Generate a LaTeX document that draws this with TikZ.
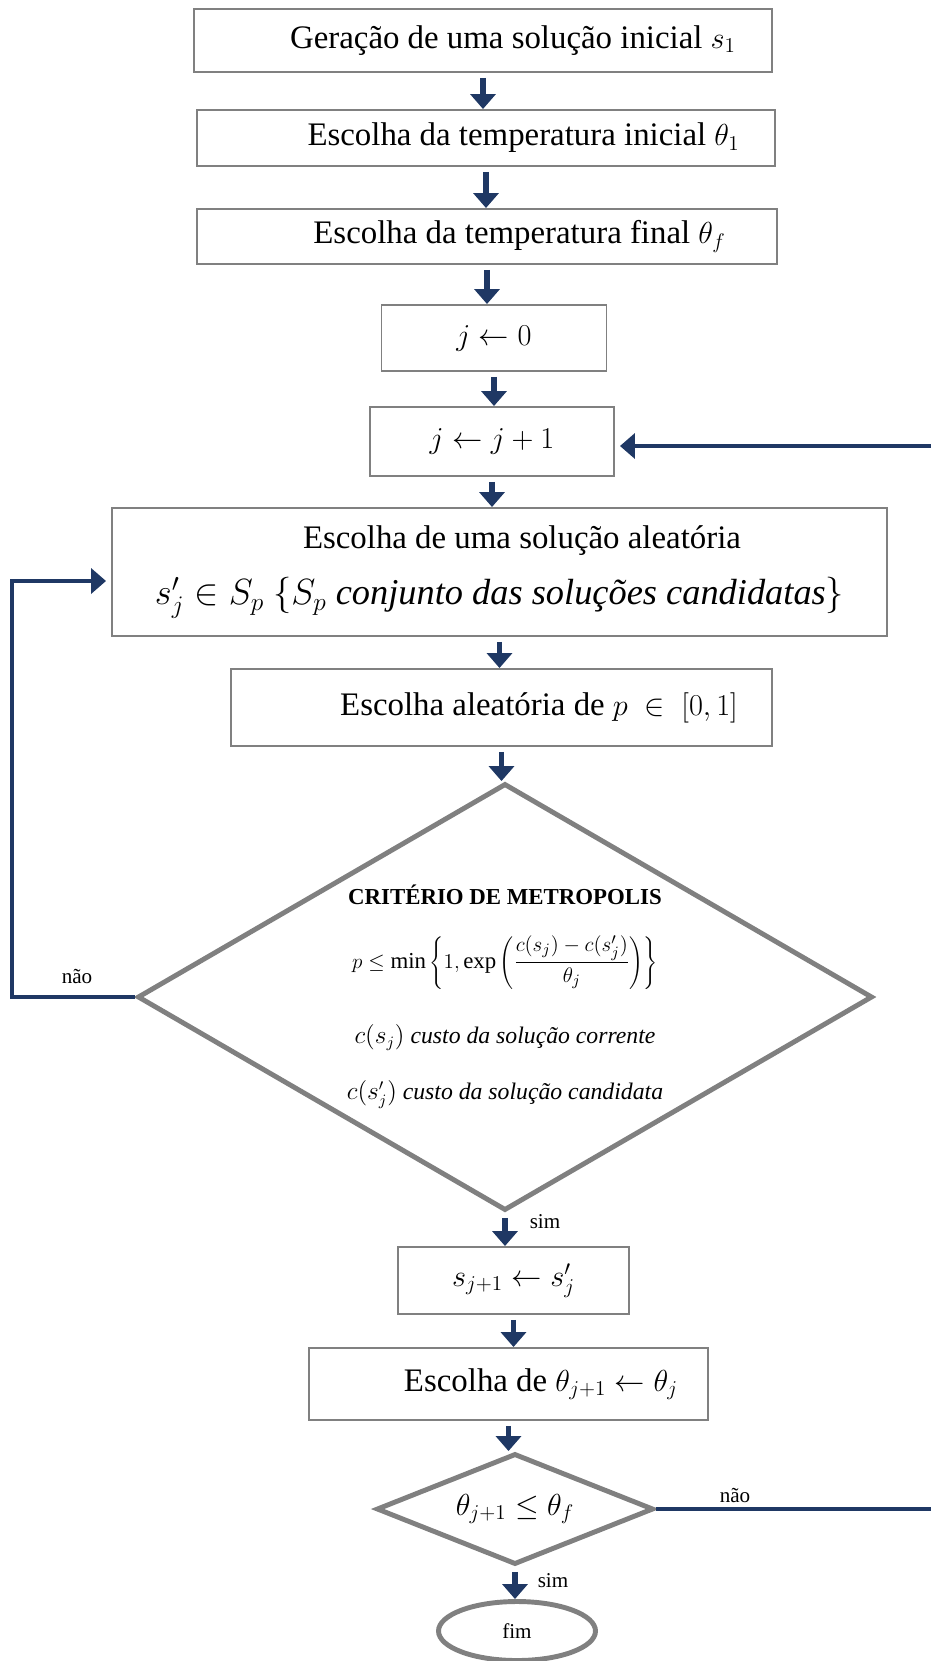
\documentclass[tikz,border=0pt]{standalone}
\usepackage{fontspec}
\setmainfont{Liberation Serif}
\usetikzlibrary{arrows.meta, positioning, shapes.geometric, calc}
\definecolor{flowBd}{HTML}{1F3864}
\definecolor{boxBd}{HTML}{808080}
\newcommand{\critfont}{\fontsize{13}{15.5}\selectfont}
\newcommand{\costfont}{\fontsize{13.5}{16}\selectfont\itshape}

\begin{document}
\begin{tikzpicture}[
  font=\fontsize{18.7}{22}\selectfont,
  box/.style={rectangle, draw=boxBd, line width=1.1pt, align=center,
              inner sep=0pt},
  test/.style={diamond, draw=boxBd, line width=2.8pt, align=center,
               inner sep=0pt},
  flow/.style={-{Triangle[width=0.5cm, length=0.3cm]}, line width=3.4pt,
               draw=flowBd, shorten <=0.1cm},
  back/.style={-{Triangle[width=0.5cm, length=0.3cm]}, line width=2.6pt,
               draw=flowBd, shorten >=0.1cm},
  lbl/.style={font=\fontsize{12}{14}\selectfont},
]
\useasboundingbox (0,0) rectangle (18.62,-33.22);

% ---------------------------- start ---------------------------------------
\node[box, minimum width=11.56cm, minimum height=1.26cm] (gen) at (9.66,-0.81)
  {\hspace*{1.2cm}Geração de uma solução inicial $s_1$};

\node[box, minimum width=11.56cm, minimum height=1.12cm] (tini) at (9.72,-2.76)
  {\hspace*{1.5cm}Escolha da temperatura inicial $\theta_1$};

\node[box, minimum width=11.6cm, minimum height=1.1cm] (tfin) at (9.74,-4.73)
  {\hspace*{1.3cm}Escolha da temperatura final $\theta_f$};

% ---------------------------- counter -------------------------------------
\node[box, minimum width=4.5cm, minimum height=1.32cm] (jzero) at (9.88,-6.76)
  {$j \leftarrow 0$};

\node[box, minimum width=4.88cm, minimum height=1.38cm] (jinc) at (9.84,-8.83)
  {$j \leftarrow j+1$};

% ---------------------------- candidate -----------------------------------
\node[box, minimum width=15.5cm, minimum height=2.56cm] (pick) at (9.99,-11.44)
  {\hspace*{0.9cm}Escolha de uma solução aleatória\\[10pt]
   {\fontsize{20.7}{24}\selectfont
    $s'_j \in S_p\ \bigl\{S_p\ \textit{conjunto das soluções candidatas}\bigr\}$}};

\node[box, minimum width=10.82cm, minimum height=1.54cm] (prob) at (10.03,-14.15)
  {\hspace*{1.5cm}Escolha aleatória de $p\ \in\ [0,1]$};

% ---------------------------- metropolis test -----------------------------
\node[test, aspect=1.7, minimum width=14.7cm, minimum height=8.54cm] (crit)
  at (10.10,-19.94)
  {{\critfont\bfseries CRITÉRIO DE METROPOLIS}\\[14pt]
   {\critfont $p \le \min\left\{1, \exp\left(
      {\displaystyle\frac{c(s_j)-c(s'_j)}{\theta_j}}\right)\right\}$}\\[19pt]
   {\costfont $c(s_j)$ custo da solução corrente}\\[10pt]
   {\costfont $c(s'_j)$ custo da solução candidata}};

% ---------------------------- accept and cool -----------------------------
\node[box, minimum width=4.62cm, minimum height=1.34cm] (accept) at (10.27,-25.61)
  {$s_{j+1} \leftarrow s_j^{\prime}$};

\node[box, minimum width=7.98cm, minimum height=1.44cm] (cool) at (10.17,-27.68)
  {\hspace*{1.3cm}Escolha de $\theta_{j+1} \leftarrow \theta_j$};

\node[test, aspect=2.4, minimum width=5.54cm, minimum height=2.22cm] (stop)
  at (10.30,-30.18) {$\theta_{j+1} \le \theta_f$};

\node[ellipse, draw=boxBd, line width=2.8pt, minimum width=3.14cm,
      minimum height=1.18cm, inner sep=0pt, font=\fontsize{12}{14}\selectfont]
  (done) at (10.34,-32.62) {fim};

% ---------------------------- flow ----------------------------------------
\draw[flow] (gen.south)    -- (gen.south |- tini.north);
\draw[flow] (tini.south)   -- (tini.south |- tfin.north);
\draw[flow] (tfin.south)   -- (tfin.south |- jzero.north);
\draw[flow] (jzero.south)  -- (jzero.south |- jinc.north);
\draw[flow] (jinc.south)   -- (jinc.south |- pick.north);
\draw[flow] (pick.south)   -- (pick.south |- prob.north);
\draw[flow] (prob.south)   -- (prob.south |- crit.north);
\draw[flow] (crit.south)   -- (crit.south |- accept.north);
\draw[flow] (accept.south) -- (accept.south |- cool.north);
\draw[flow] (cool.south)   -- (cool.south |- stop.north);
\draw[flow] (stop.south)   -- (stop.south |- done.north);

% rejected candidate goes back to the choice; the right loop leaves the page
\coordinate (lside) at (0.24,0);
\coordinate (rside) at (18.9,0);
\draw[back] (crit.west) -- (crit.west -| lside) |- ([yshift=-0.18cm]pick.west);
\draw[back] (stop.east) -- (stop.east -| rside) |- ([yshift=-0.09cm]jinc.east);

\node[lbl] (noA)  at (1.54,-19.52)  {não};
\node[lbl] (yesA) at (10.90,-24.44) {sim};
\node[lbl] (noB)  at (14.70,-29.90) {não};
\node[lbl] (yesB) at (11.06,-31.62) {sim};

\end{tikzpicture}
\end{document}
